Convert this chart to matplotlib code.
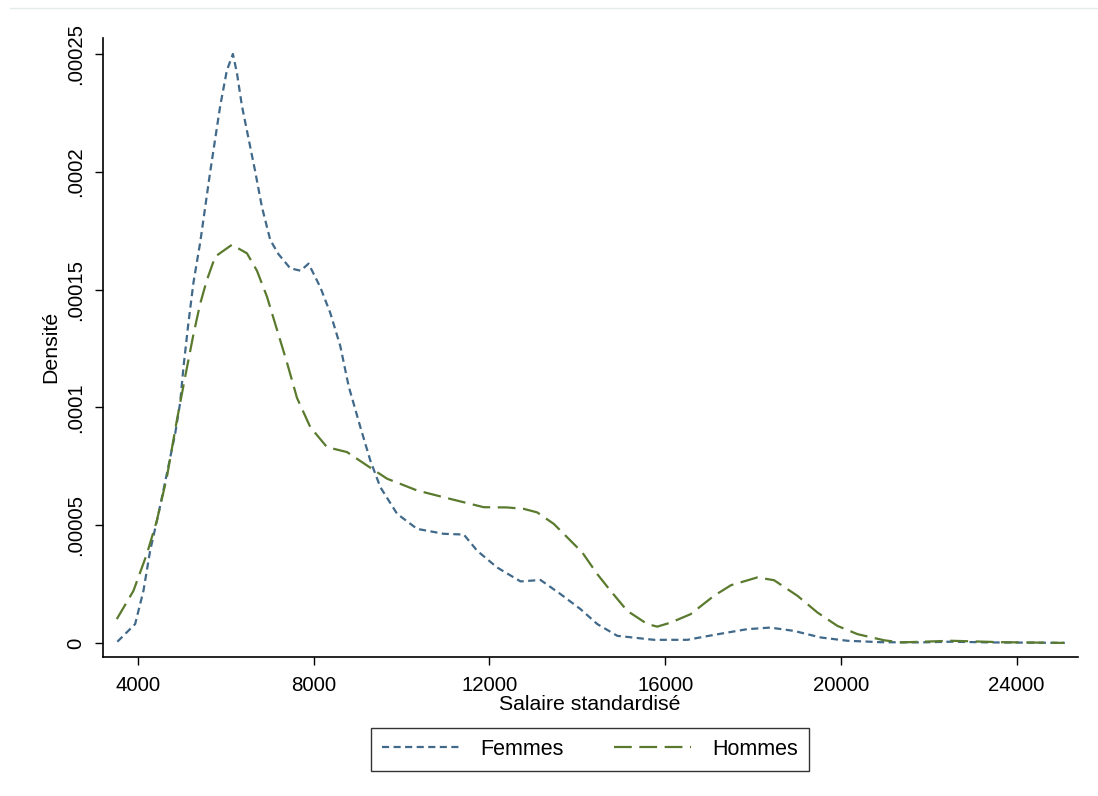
import matplotlib
matplotlib.use("Agg")
import matplotlib.pyplot as plt
from matplotlib.lines import Line2D

plt.rcParams['font.family'] = ['Liberation Sans', 'DejaVu Sans']

# Femmes density (salary, density)
femmes_x = [3527, 3932, 4121, 4273, 4463, 4654, 4843, 4957, 5032, 5146, 5260, 5413,
            5527, 5641, 5755, 5869, 6020, 6158, 6249, 6363, 6515, 6667, 6819, 7009,
            7197, 7464, 7700,
            7880, 8148, 8376, 8603, 8793, 9060, 9287, 9515, 9896, 10352, 10960, 11415,
            11720, 12175, 12706, 13162, 13618, 14074, 14454, 14910, 15745, 16504,
            17112, 17860, 18390, 18930, 19540, 20150, 20900, 21800, 22500, 23400, 24300, 25100]
femmes_y = [0.0000005, 0.0000080, 0.0000221, 0.0000391, 0.0000548, 0.0000718, 0.0000888,
            0.000102, 0.000117, 0.000136, 0.000153, 0.000170,
            0.000185, 0.000200, 0.000214, 0.000228, 0.000243, 0.000250, 0.000242, 0.000228,
            0.000214, 0.000200, 0.000185, 0.000171,
            0.000165, 0.000159, 0.000158,
            0.000161, 0.000151, 0.000140, 0.000126, 0.000109, 0.0000916, 0.0000774, 0.0000661,
            0.0000548, 0.0000484, 0.0000463, 0.0000460,
            0.0000391, 0.0000320, 0.0000261, 0.0000267, 0.0000207, 0.0000143, 0.0000080,
            0.0000030, 0.0000013, 0.0000013,
            0.0000034, 0.0000058, 0.0000065, 0.0000051, 0.0000023, 0.0000009, 0.0000003,
            0.0000002, 0.0000005, 0.0000002, 0.0000001, 0.0]

# Hommes density (salary, density)
hommes_x = [3514, 3893, 4198, 4426, 4654, 4882, 5071, 5260, 5413, 5565, 5755, 6135,
            6477, 6705, 6933, 7161, 7389, 7617, 7920, 8300, 8756, 9212, 9668, 9971,
            10352, 11111, 11870, 12400, 12780, 13086, 13465, 13845, 14112, 14454, 14757,
            15137, 15593, 15820, 16124, 16580, 17112, 17500, 18100, 18480, 19011, 19467,
            19923, 20380, 20987, 21370, 22510, 23650, 25080]
hommes_y = [0.0000101, 0.0000221, 0.0000377, 0.0000519, 0.0000703, 0.0000945, 0.000113,
            0.000131, 0.000144, 0.000154, 0.000164, 0.000169,
            0.0001654, 0.000158, 0.000147, 0.000133, 0.000119, 0.000104, 0.0000916, 0.0000831,
            0.0000810, 0.0000753, 0.0000697, 0.0000675,
            0.0000647, 0.0000611, 0.0000576, 0.0000575, 0.0000569, 0.0000554, 0.0000505,
            0.0000434, 0.0000384, 0.0000292, 0.0000221,
            0.0000136, 0.0000080, 0.0000069, 0.0000086, 0.0000122, 0.0000200, 0.0000245,
            0.0000278, 0.0000266, 0.0000200, 0.0000129,
            0.0000072, 0.0000037, 0.0000011, 0.0000002, 0.0000009, 0.0000003, 0.0]

xticks = [4000, 8000, 12000, 16000, 20000, 24000]
yticks = [0, 0.00005, 0.0001, 0.00015, 0.0002, 0.00025]
ytick_labels = ["0", ".00005", ".0001", ".00015", ".0002", ".00025"]

blue = "#41698a"
green = "#5a7a2e"
fs_tick = 14.7
fs_label = 15.3
fs_leg = 15.5

fig = plt.figure(figsize=(10.98, 7.96), dpi=100)
ax = fig.add_axes([0.0938, 0.1746, 0.888, 0.7777])

lw = 1.6
ax.plot(femmes_x, femmes_y, color=blue, lw=lw, dashes=(3.2, 2.0), label="Femmes")
ax.plot(hommes_x, hommes_y, color=green, lw=lw, dashes=(8.0, 3.4), label="Hommes")

ax.set_xlim(3200, 25400)
ax.set_ylim(-0.0000060, 0.0002568)
ax.set_xticks(xticks)
ax.set_xticklabels([str(t) for t in xticks], fontsize=fs_tick)
ax.set_yticks(yticks)
ax.set_yticklabels(ytick_labels, fontsize=fs_tick, rotation=90, va='center')
ax.tick_params(axis='both', direction='out', length=5.5, width=1, color='black')
ax.tick_params(axis='x', pad=8.0)
ax.tick_params(axis='y', pad=7.5)

for s in ['top', 'right']:
    ax.spines[s].set_visible(False)
for s in ['left', 'bottom']:
    ax.spines[s].set_linewidth(1.2)

fig.text(590 / 1098, 1 - 705 / 796, "Salaire standardisé", fontsize=fs_label,
         ha='center', va='center')
fig.text(51 / 1098, 1 - 347 / 796, "Densité", fontsize=fs_label,
         ha='center', va='center', rotation=90)

leg = fig.legend(handles=ax.get_lines(), labels=["Femmes", "Hommes"], ncol=2,
                 loc='center', bbox_to_anchor=(590 / 1098, 1 - 749.5 / 796), fontsize=fs_leg,
                 frameon=True, fancybox=False, edgecolor='black',
                 handlelength=3.6, handletextpad=1.0, columnspacing=2.3,
                 borderpad=0.5)
leg.get_frame().set_linewidth(1.0)

fig.add_artist(Line2D([0.009, 1.0], [0.990, 0.990], transform=fig.transFigure,
                      color='#e4ecee', lw=1))

fig.savefig("out.png", dpi=100)
